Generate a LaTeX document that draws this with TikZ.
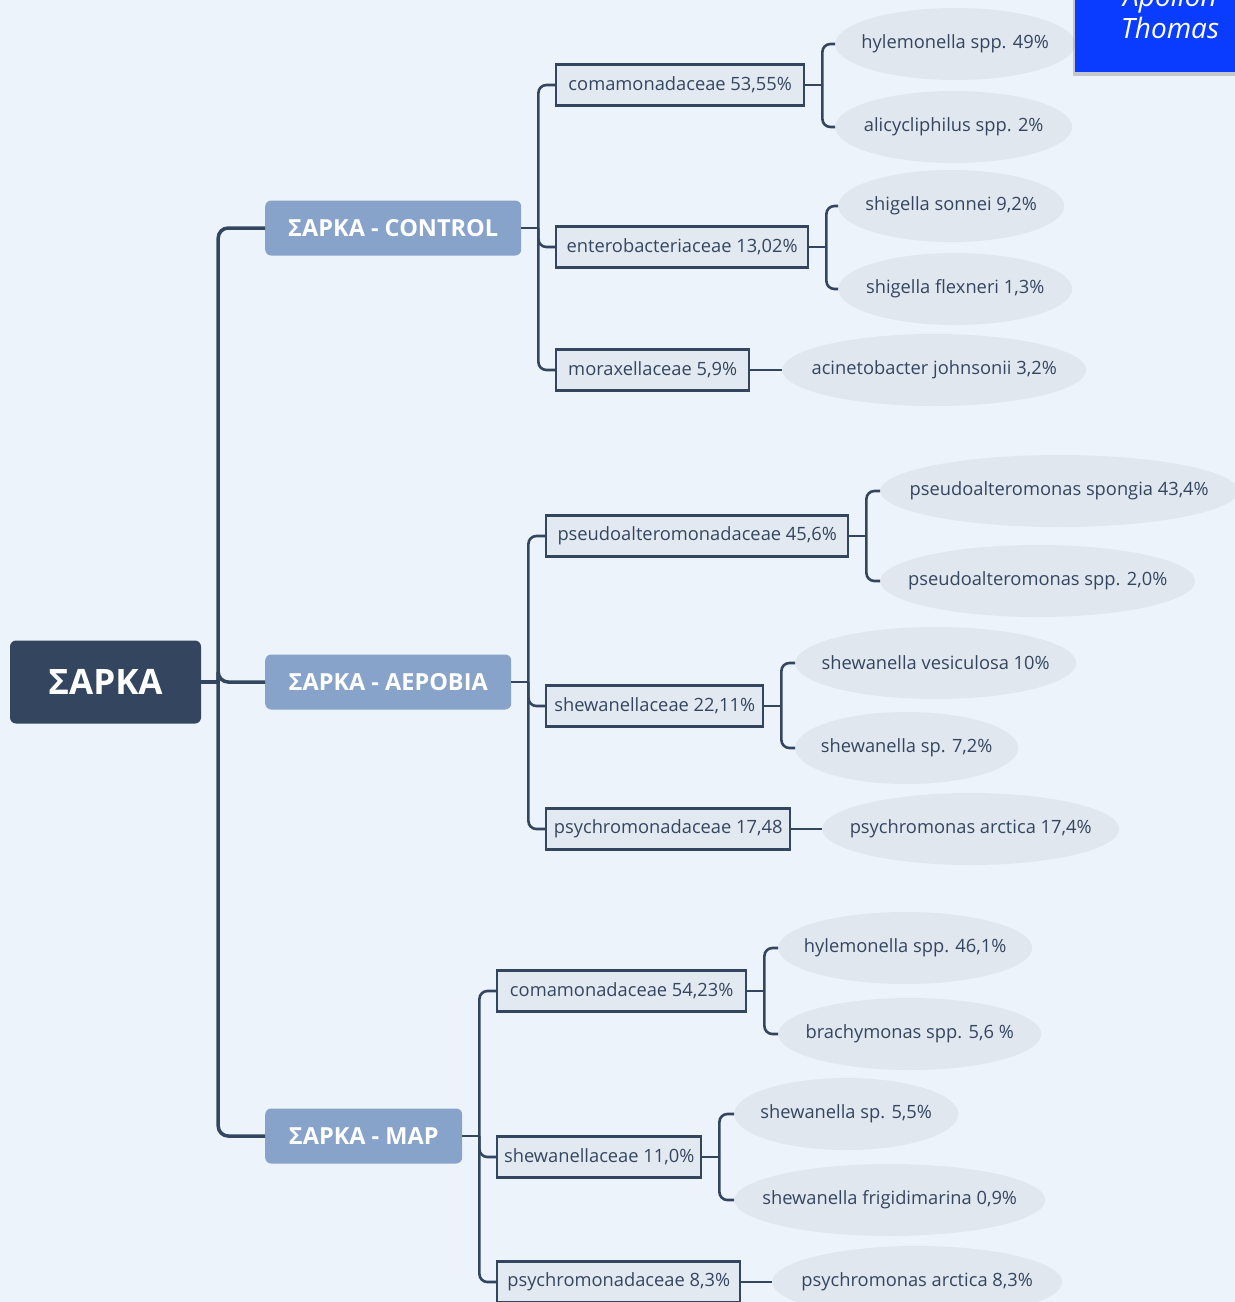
\documentclass[tikz,border=0pt]{standalone}
\usepackage{fontspec}
\setmainfont{Open Sans}
\usetikzlibrary{shapes.geometric}
\definecolor{bgblue}{HTML}{EDF3FA}
\definecolor{inkblue}{HTML}{34465F}
\definecolor{midblue}{HTML}{87A3CA}
\definecolor{boxfill}{HTML}{E3E9F1}
\definecolor{ovalfill}{HTML}{E1E7EF}
\definecolor{signblue}{HTML}{0A3CFF}
% text of zero width, so the oval keeps its given size
\newcommand{\ovaltxt}[1]{\makebox[0pt]{#1}}
\begin{document}
\begin{tikzpicture}[x=1pt,y=-1pt,
    root/.style={fill=inkblue, rounded corners=6, text=white, font=\fontsize{35}{40}\selectfont\bfseries, minimum width=191, minimum height=83, inner sep=0},
    group/.style={fill=midblue, rounded corners=6, text=white, font=\fontsize{23.5}{27}\selectfont\bfseries, minimum height=55, inner sep=0, anchor=west},
    family/.style={draw=inkblue, line width=2.4, fill=boxfill, text=inkblue, font=\fontsize{18.3}{22}\selectfont, minimum height=41, inner sep=0, anchor=west},
    genus/.style={ellipse, fill=ovalfill, text=inkblue, font=\fontsize{18.3}{22}\selectfont, minimum height=72, inner sep=0, anchor=west},
    trunk/.style={draw=inkblue, line width=3.5, rounded corners=10},
    link/.style={draw=inkblue, line width=2.6, rounded corners=8},
    signtxt/.style={text=white, font=\fontsize{28}{32}\selectfont\itshape, anchor=base, inner sep=0}]
	\useasboundingbox (0,0) rectangle (1235,1302);
	\clip (0,0) rectangle (1235,1302);
	\fill[bgblue] (0,0) rectangle (1235,1302);

	% root and groups
	\node[root] (sarka) at (105.5,682) {ΣΑΡΚΑ};
	\node[group, minimum width=256] (ctrl) at (265,228) {ΣΑΡΚΑ - CONTROL};
	\node[group, minimum width=246] (aer) at (265,682) {ΣΑΡΚΑ - ΑΕΡΟΒΙΑ};
	\node[group, minimum width=197] (map) at (265,1136) {ΣΑΡΚΑ - MAP};

	% families
	\node[family, minimum width=248] (b1) at (555,85) {comamonadaceae 53,55\%};
	\node[family, minimum width=252] (b2) at (555,247) {enterobacteriaceae 13,02\%};
	\node[family, minimum width=193] (b3) at (555,370) {moraxellaceae 5,9\%};
	\node[family, minimum width=302] (b4) at (545,536) {pseudoalteromonadaceae 45,6\%};
	\node[family, minimum width=217] (b5) at (545,706) {shewanellaceae 22,11\%};
	\node[family, minimum width=244] (b6) at (545,829) {psychromonadaceae 17,48};
	\node[family, minimum width=249] (b7) at (496,991) {comamonadaceae 54,23\%};
	\node[family, minimum width=204] (b8) at (496,1157) {shewanellaceae 11,0\%};
	\node[family, minimum width=243] (b9) at (496,1282) {psychromonadaceae 8,3\%};

	% genera
	\node[genus, minimum width=240] (e1) at (835,44) {\ovaltxt{hylemonella spp. 49\%}};
	\node[genus, minimum width=237] (e2) at (835,127) {\ovaltxt{alicycliphilus spp. 2\%}};
	\node[genus, minimum width=226] (e3) at (838,206) {\ovaltxt{shigella sonnei 9,2\%}};
	\node[genus, minimum width=234] (e4) at (838,289) {\ovaltxt{shigella flexneri 1,3\%}};
	\node[genus, minimum width=304] (e5) at (782,370) {\ovaltxt{acinetobacter johnsonii 3,2\%}};
	\node[genus, minimum width=358] (e6) at (880,491) {\ovaltxt{pseudoalteromonas spongia 43,4\%}};
	\node[genus, minimum width=315] (e7) at (880,581) {\ovaltxt{pseudoalteromonas spp. 2,0\%}};
	\node[genus, minimum width=281] (e8) at (795,663) {\ovaltxt{shewanella vesiculosa 10\%}};
	\node[genus, minimum width=223] (e9) at (795,748) {\ovaltxt{shewanella sp. 7,2\%}};
	\node[genus, minimum width=297] (e10) at (822,829) {\ovaltxt{psychromonas arctica 17,4\%}};
	\node[genus, minimum width=254] (e11) at (778,948) {\ovaltxt{hylemonella spp. 46,1\%}};
	\node[genus, minimum width=263] (e12) at (778,1034) {\ovaltxt{brachymonas spp. 5,6 \%}};
	\node[genus, minimum width=224] (e13) at (734,1114) {\ovaltxt{shewanella sp. 5,5\%}};
	\node[genus, minimum width=311] (e14) at (734,1200) {\ovaltxt{shewanella frigidimarina 0,9\%}};
	\node[genus, minimum width=290] (e15) at (772,1282) {\ovaltxt{psychromonas arctica 8,3\%}};

	% connectors
	\coordinate (j0) at ([xshift=17]sarka.east);
	\draw[trunk] (sarka.east) -- (j0);
	\foreach \g in {ctrl,aer,map} \draw[trunk] (j0) |- (\g.west);

	\coordinate (j1) at ([xshift=17]ctrl.east);
	\draw[link] (ctrl.east) -- (j1);
	\foreach \c in {b1,b2,b3} \draw[link] (j1) |- (\c.west);
	\coordinate (j2) at ([xshift=17]aer.east);
	\draw[link] (aer.east) -- (j2);
	\foreach \c in {b4,b5,b6} \draw[link] (j2) |- (\c.west);
	\coordinate (j3) at ([xshift=17]map.east);
	\draw[link] (map.east) -- (j3);
	\foreach \c in {b7,b8,b9} \draw[link] (j3) |- (\c.west);

	\foreach \f/\u/\v in {b1/e1/e2,b2/e3/e4,b4/e6/e7,b5/e8/e9,b7/e11/e12,b8/e13/e14}{
	    \coordinate (k\f) at ([xshift=17]\f.east);
	    \draw[link] (\f.east) -- (k\f);
	    \draw[link] (k\f) |- (\u.west);
	    \draw[link] (k\f) |- (\v.west);
	}
	\draw[link] (b3.east) -- (e5.west);
	\draw[link] (b6.east) -- (e10.west);
	\draw[link] (b9.east) -- (e15.west);

	% signature
	\fill[black, opacity=.18] (1073,0) rectangle (1235,76);
	\node[fill=signblue, minimum width=160, minimum height=72, anchor=north west, inner sep=0] (sign) at (1075,0) {};
	\node[signtxt] (apo) at (1170,6) {Apollon};
	\node[signtxt] (tho) at (1170,38) {Thomas};
\end{tikzpicture}
\end{document}
